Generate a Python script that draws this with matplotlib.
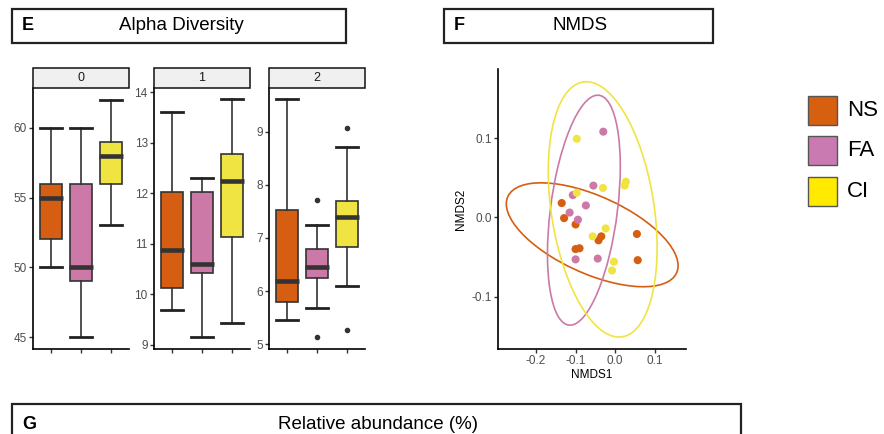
import numpy as np
import matplotlib
matplotlib.use('Agg')
import matplotlib.pyplot as plt
from matplotlib.patches import Rectangle, Ellipse
from matplotlib.transforms import Affine2D

plt.rcParams['font.family'] = ['Liberation Sans', 'DejaVu Sans']

# ---- data ----
groups = ['NS', 'FA', 'CI']
box_colors = ['#D55E12', '#CC79A7', '#F0E442']
legend_colors = ['#D75F10', '#C97AB0', '#FFEA00']
facets = ['0', '1', '2']

# box stats per facet: (whislo, q1, med, q3, whishi, fliers)
facet0 = [(50, 52, 55, 56, 60, []),
          (45, 49, 50, 56, 60, []),
          (53, 56, 58, 59, 62, [])]
facet1 = [(9.7, 10.13, 10.88, 12.02, 13.6, []),
          (9.15, 10.42, 10.61, 12.03, 12.3, []),
          (9.44, 11.13, 12.24, 12.78, 13.86, [])]
facet2 = [(5.45, 5.80, 6.18, 7.52, 9.61, []),
          (5.68, 6.24, 6.45, 6.80, 7.25, [7.71, 5.13]),
          (6.09, 6.82, 7.39, 7.70, 8.71, [9.06, 5.27])]
facet_data = [facet0, facet1, facet2]
facet_ylim = [(44.15, 62.85), (8.92, 14.08), (4.91, 9.82)]
facet_yticks = [[45, 50, 55, 60], [9, 10, 11, 12, 13, 14], [5, 6, 7, 8, 9]]

# NMDS scores
ns_x = [-0.135, -0.129, -0.100, -0.100, -0.090, -0.042, -0.035, 0.055, 0.057]
ns_y = [0.018, -0.001, -0.009, -0.040, -0.039, -0.029, -0.024, -0.021, -0.054]
fa_x = [-0.030, -0.055, -0.107, -0.074, -0.115, -0.094, -0.100, -0.044]
fa_y = [0.108, 0.040, 0.028, 0.015, 0.006, -0.003, -0.053, -0.052]
ci_x = [-0.097, -0.031, 0.027, 0.024, -0.097, -0.057, -0.024, -0.003, -0.008]
ci_y = [0.099, 0.037, 0.045, 0.040, 0.031, -0.024, -0.014, -0.056, -0.067]
nmds_x = [ns_x, fa_x, ci_x]
nmds_y = [ns_y, fa_y, ci_y]

# ellipses: centre x, centre y, half range x, half range y, correlation
ell_cx = [-0.058, -0.079, -0.0315]
ell_cy = [-0.022, 0.009, 0.010]
ell_sx = [0.217, 0.092, 0.1375]
ell_sy = [0.0655, 0.145, 0.161]
ell_r = [-0.595, 0.38, -0.30]

W, H = 884, 434
fig = plt.figure(figsize=(W / 100, H / 100), dpi=100)


def fx(px):
    return px / W


def fy(py):
    return 1 - py / H


def header(x0, x1, y0, y1, letter, title, tx):
    fig.add_artist(Rectangle((fx(x0), fy(y1)), fx(x1 - x0), (y1 - y0) / H,
                             transform=fig.transFigure, fill=False,
                             edgecolor='#222222', lw=1.6))
    yc = fy((y0 + y1) / 2)
    fig.text(fx(x0 + 10), yc, letter, fontsize=13, fontweight='bold',
             va='center', ha='left')
    fig.text(fx(tx), yc, title, fontsize=13.5, va='center', ha='center')


header(12, 346, 9, 43, 'E', 'Alpha Diversity', 181)
header(444, 713, 9, 43, 'F', 'NMDS', 580)
header(12, 741, 404, 445, 'G', 'Relative abundance (%)', 378)

# ---- alpha diversity facets ----
panel_left = [33, 154, 269]
for i in range(3):
    ax = fig.add_axes([fx(panel_left[i]), fy(349), 96 / W, (349 - 88) / H])
    stats = []
    for (lo, q1, med, q3, hi, fl) in facet_data[i]:
        stats.append({'whislo': lo, 'q1': q1, 'med': med, 'q3': q3,
                      'whishi': hi, 'fliers': fl})
    bp = ax.bxp(stats, positions=[1, 2, 3], widths=0.75, capwidths=0.75,
                patch_artist=True, showfliers=True,
                boxprops=dict(edgecolor='#333333', lw=1.2),
                whiskerprops=dict(color='#333333', lw=1.2),
                capprops=dict(color='#222222', lw=2.0),
                medianprops=dict(color='#333333', lw=3.3, solid_capstyle='butt'),
                flierprops=dict(marker='o', markerfacecolor='#333333',
                                markeredgecolor='#333333', markersize=3))
    for patch, c in zip(bp['boxes'], box_colors):
        patch.set_facecolor(c)
    for m in bp['medians']:
        xd = m.get_xdata()
        m.set_xdata([xd[0] - 0.03, xd[1] + 0.03])
    ax.set_xlim(0.4, 3.6)
    ax.set_ylim(*facet_ylim[i])
    ax.set_yticks(facet_yticks[i])
    ax.set_xticks([1, 2, 3])
    ax.set_xticklabels([])
    ax.tick_params(axis='both', length=3, width=1, color='#333333',
                   labelsize=8.5, labelcolor='#4D4D4D', pad=1.5)
    for s in ['top', 'right']:
        ax.spines[s].set_visible(False)
    for s in ['left', 'bottom']:
        ax.spines[s].set_linewidth(1.2)
    # strip
    fig.add_artist(Rectangle((fx(panel_left[i]), fy(88)), 96 / W, 20 / H,
                             transform=fig.transFigure, facecolor='#F0F0F0',
                             edgecolor='#111111', lw=1.1))
    fig.text(fx(panel_left[i] + 48), fy(78), facets[i], fontsize=9,
             color='#1A1A1A', ha='center', va='center')

# ---- NMDS ----
ax = fig.add_axes([fx(498), fy(349), (686 - 498) / W, (349 - 69) / H])
for k in range(3):
    ax.scatter(nmds_x[k], nmds_y[k], s=34, color=box_colors[k],
               edgecolors='none', zorder=3)
    tr = Affine2D(np.array([
        [ell_sx[k], 0, ell_cx[k]],
        [ell_sy[k] * ell_r[k], ell_sy[k] * np.sqrt(1 - ell_r[k] ** 2), ell_cy[k]],
        [0, 0, 1]]))
    e = Ellipse((0, 0), 2, 2, fill=False, edgecolor=box_colors[k], lw=1.2,
                transform=tr + ax.transData, zorder=2)
    ax.add_patch(e)
ax.set_xlim(-0.296, 0.179)
ax.set_ylim(-0.166, 0.187)
ax.set_xticks([-0.2, -0.1, 0.0, 0.1])
ax.set_yticks([-0.1, 0.0, 0.1])
ax.set_xticklabels(['-0.2', '-0.1', '0.0', '0.1'])
ax.set_yticklabels(['-0.1', '0.0', '0.1'])
ax.tick_params(axis='both', length=3, width=1, color='#333333',
               labelsize=8.5, labelcolor='#4D4D4D', pad=1.5)
ax.set_xlabel('NMDS1', fontsize=8.5, labelpad=1)
ax.set_ylabel('NMDS2', fontsize=8.5, labelpad=3)
for s in ['top', 'right']:
    ax.spines[s].set_visible(False)
for s in ['left', 'bottom']:
    ax.spines[s].set_linewidth(1.2)

# ---- legend ----
leg_top = [96, 136, 177]
for k in range(3):
    fig.add_artist(Rectangle((fx(808), fy(leg_top[k] + 29)), 29 / W, 29 / H,
                             transform=fig.transFigure, facecolor=legend_colors[k],
                             edgecolor='#555555', lw=1.0))
    fig.text(fx(847), fy(leg_top[k] + 14.5), groups[k], fontsize=16,
             ha='left', va='center')

fig.savefig('out.png', dpi=100)
